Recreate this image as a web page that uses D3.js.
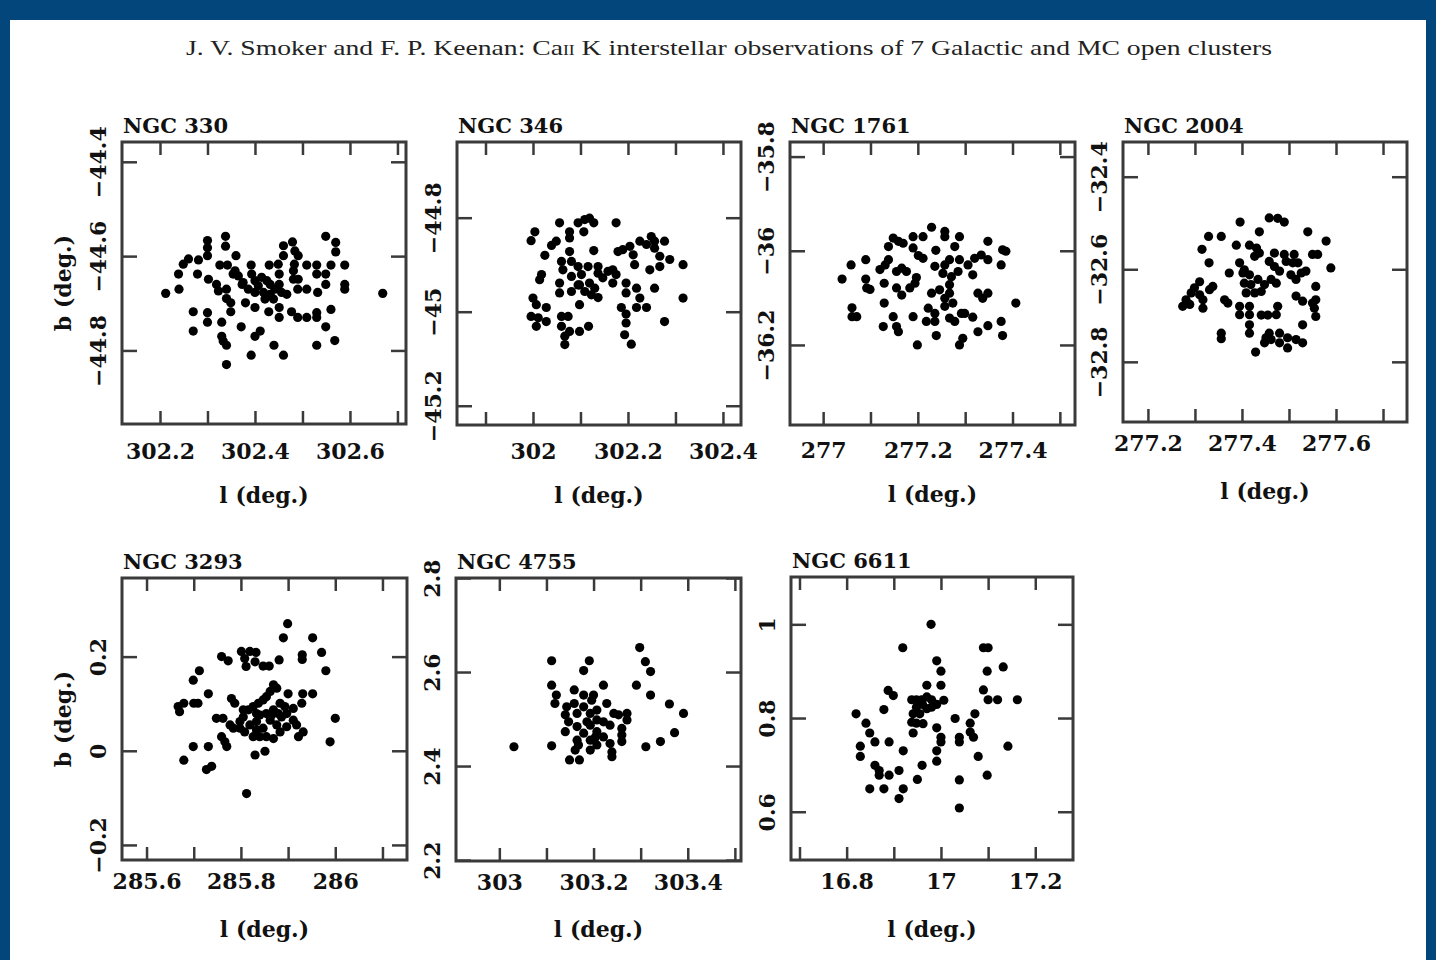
<!DOCTYPE html>
<html><head><meta charset="utf-8">
<script src="https://cdn.jsdelivr.net/npm/d3@7"></script>
<style>body{margin:0;padding:0;background:#fff;}svg{display:block;}</style>
</head><body>
<svg id="chart" width="1436" height="960"></svg>
<script>
// ---------- DATA (galactic l, b in degrees) ----------
const headerText = ["J. V. Smoker and F. P. Keenan: Ca", "II", " K interstellar observations of 7 Galactic and MC open clusters"];
const clusterNames = ["NGC 330", "NGC 346", "NGC 1761", "NGC 2004", "NGC 3293", "NGC 4755", "NGC 6611"];

const ngc330 = [[302.212,-44.679],[302.240,-44.670],[302.239,-44.638],[302.249,-44.617],[302.260,-44.606],[302.281,-44.608],[302.279,-44.638],[302.300,-44.567],[302.300,-44.582],[302.300,-44.599],[302.338,-44.558],[302.338,-44.579],[302.360,-44.599],[302.326,-44.619],[302.342,-44.619],[302.358,-44.631],[302.365,-44.642],[302.302,-44.649],[302.319,-44.660],[302.323,-44.674],[302.340,-44.670],[302.340,-44.690],[302.349,-44.699],[302.373,-44.660],[302.380,-44.699],[302.392,-44.619],[302.393,-44.638],[302.400,-44.652],[302.407,-44.663],[302.414,-44.645],[302.425,-44.652],[302.432,-44.660],[302.400,-44.677],[302.418,-44.677],[302.432,-44.681],[302.442,-44.670],[302.400,-44.709],[302.430,-44.619],[302.449,-44.617],[302.451,-44.638],[302.451,-44.660],[302.456,-44.677],[302.467,-44.681],[302.460,-44.599],[302.460,-44.578],[302.479,-44.570],[302.484,-44.589],[302.491,-44.599],[302.483,-44.617],[302.481,-44.631],[302.481,-44.649],[302.491,-44.649],[302.490,-44.670],[302.509,-44.670],[302.509,-44.619],[302.530,-44.619],[302.530,-44.638],[302.532,-44.677],[302.549,-44.638],[302.549,-44.660],[302.560,-44.619],[302.549,-44.558],[302.570,-44.571],[302.570,-44.591],[302.589,-44.619],[302.589,-44.660],[302.589,-44.670],[302.669,-44.679],[302.270,-44.718],[302.270,-44.759],[302.300,-44.720],[302.300,-44.740],[302.330,-44.740],[302.349,-44.718],[302.330,-44.770],[302.333,-44.780],[302.340,-44.789],[302.340,-44.830],[302.371,-44.750],[302.392,-44.810],[302.400,-44.770],[302.411,-44.759],[302.429,-44.718],[302.451,-44.709],[302.451,-44.730],[302.477,-44.718],[302.490,-44.730],[302.509,-44.730],[302.530,-44.720],[302.530,-44.730],[302.560,-44.713],[302.549,-44.750],[302.568,-44.779],[302.530,-44.789],[302.440,-44.789],[302.460,-44.810],[302.354,-44.638],[302.375,-44.656],[302.386,-44.670],[302.421,-44.691],[302.439,-44.691]];

const ngc346 = [[302.004,-44.830],[301.996,-44.849],[302.025,-44.880],[302.039,-44.859],[302.049,-44.850],[302.056,-44.811],[302.077,-44.830],[302.077,-44.843],[302.095,-44.811],[302.109,-44.804],[302.119,-44.801],[302.128,-44.811],[302.107,-44.830],[302.175,-44.811],[302.077,-44.872],[302.060,-44.893],[302.063,-44.911],[302.081,-44.893],[302.095,-44.904],[302.116,-44.904],[302.128,-44.870],[302.137,-44.904],[302.137,-44.918],[302.081,-44.925],[302.102,-44.921],[302.095,-44.943],[302.119,-44.939],[302.130,-44.950],[302.147,-44.928],[302.168,-44.911],[302.175,-44.921],[302.168,-44.939],[302.179,-44.872],[302.189,-44.868],[302.204,-44.861],[302.211,-44.879],[302.225,-44.850],[302.239,-44.857],[302.249,-44.840],[302.256,-44.850],[302.256,-44.865],[302.277,-44.850],[302.267,-44.882],[302.288,-44.889],[302.316,-44.900],[302.214,-44.900],[302.246,-44.911],[302.267,-44.904],[302.018,-44.921],[302.014,-44.932],[302.056,-44.939],[302.056,-44.960],[302.081,-44.957],[302.098,-44.985],[302.137,-44.970],[302.196,-44.939],[302.196,-44.960],[302.218,-44.950],[302.256,-44.950],[302.225,-44.971],[302.218,-44.991],[302.239,-44.991],[302.186,-44.991],[302.196,-45.005],[302.196,-45.024],[302.193,-45.049],[302.207,-45.069],[302.316,-44.971],[302.277,-45.021],[302.000,-44.971],[302.007,-44.985],[302.028,-44.991],[301.996,-45.010],[302.011,-45.013],[302.007,-45.031],[302.028,-45.021],[302.060,-45.010],[302.074,-45.010],[302.060,-45.031],[302.077,-45.042],[302.098,-45.042],[302.117,-45.031],[302.067,-45.052],[302.067,-45.070],[302.098,-44.943],[302.109,-44.957],[302.123,-44.964],[302.158,-44.914]];

const ngc1761 = [[277.040,-36.060],[277.059,-36.030],[277.090,-36.019],[277.090,-36.060],[277.092,-36.079],[277.099,-36.082],[277.120,-36.040],[277.131,-36.030],[277.138,-36.019],[277.129,-36.069],[277.129,-36.111],[277.061,-36.121],[277.061,-36.140],[277.071,-36.140],[277.138,-35.991],[277.148,-35.973],[277.159,-35.980],[277.169,-35.984],[277.190,-35.970],[277.211,-35.970],[277.229,-35.950],[277.257,-35.959],[277.257,-35.970],[277.288,-35.970],[277.278,-35.991],[277.348,-35.980],[277.190,-35.994],[277.201,-36.010],[277.211,-36.016],[277.238,-35.999],[277.236,-36.033],[277.257,-36.030],[277.267,-36.019],[277.288,-36.019],[277.253,-36.048],[277.271,-36.055],[277.285,-36.044],[277.267,-36.072],[277.267,-36.090],[277.257,-36.101],[277.274,-36.111],[277.246,-36.083],[277.229,-36.090],[277.155,-36.044],[277.166,-36.037],[277.176,-36.044],[277.155,-36.079],[277.166,-36.094],[277.183,-36.079],[277.194,-36.069],[277.197,-36.057],[277.306,-36.030],[277.320,-36.016],[277.334,-36.009],[277.348,-36.019],[277.379,-35.998],[277.386,-36.001],[277.376,-36.030],[277.316,-36.051],[277.327,-36.090],[277.337,-36.101],[277.348,-36.090],[277.407,-36.111],[277.148,-36.140],[277.127,-36.161],[277.155,-36.161],[277.159,-36.172],[277.190,-36.140],[277.218,-36.150],[277.236,-36.133],[277.236,-36.150],[277.257,-36.118],[277.267,-36.143],[277.278,-36.150],[277.292,-36.133],[277.299,-36.133],[277.316,-36.141],[277.348,-36.159],[277.327,-36.172],[277.376,-36.150],[277.379,-36.180],[277.295,-36.186],[277.288,-36.200],[277.239,-36.180],[277.199,-36.200],[277.222,-36.122]];

const ngc2004 = [[277.396,-32.498],[277.458,-32.489],[277.476,-32.490],[277.490,-32.498],[277.437,-32.519],[277.540,-32.519],[277.579,-32.539],[277.329,-32.529],[277.356,-32.529],[277.315,-32.557],[277.330,-32.586],[277.388,-32.548],[277.416,-32.548],[277.431,-32.554],[277.437,-32.565],[277.427,-32.572],[277.469,-32.565],[277.490,-32.568],[277.511,-32.568],[277.550,-32.568],[277.561,-32.568],[277.589,-32.597],[277.373,-32.608],[277.395,-32.586],[277.405,-32.601],[277.416,-32.612],[277.458,-32.583],[277.469,-32.594],[277.480,-32.604],[277.494,-32.583],[277.508,-32.586],[277.519,-32.586],[277.504,-32.612],[277.526,-32.608],[277.515,-32.622],[277.536,-32.604],[277.557,-32.637],[277.405,-32.630],[277.419,-32.633],[277.434,-32.622],[277.448,-32.633],[277.441,-32.648],[277.462,-32.622],[277.473,-32.630],[277.409,-32.651],[277.427,-32.651],[277.310,-32.627],[277.299,-32.640],[277.292,-32.651],[277.281,-32.666],[277.274,-32.680],[277.289,-32.676],[277.310,-32.655],[277.317,-32.666],[277.331,-32.644],[277.338,-32.637],[277.317,-32.684],[277.363,-32.666],[277.370,-32.673],[277.395,-32.680],[277.395,-32.698],[277.416,-32.680],[277.416,-32.698],[277.441,-32.699],[277.455,-32.699],[277.473,-32.698],[277.476,-32.680],[277.515,-32.658],[277.529,-32.669],[277.550,-32.673],[277.557,-32.666],[277.554,-32.684],[277.557,-32.702],[277.529,-32.720],[277.416,-32.720],[277.416,-32.738],[277.356,-32.738],[277.356,-32.750],[277.458,-32.738],[277.480,-32.738],[277.451,-32.748],[277.462,-32.752],[277.497,-32.748],[277.515,-32.752],[277.529,-32.759],[277.480,-32.759],[277.448,-32.759],[277.497,-32.770],[277.429,-32.779],[277.402,-32.608]];

const ngc3293 = [[285.899,0.270],[285.890,0.240],[285.952,0.240],[285.971,0.209],[285.980,0.170],[285.930,0.204],[285.930,0.194],[285.881,0.193],[285.801,0.211],[285.819,0.211],[285.832,0.209],[285.808,0.196],[285.811,0.179],[285.830,0.189],[285.847,0.180],[285.860,0.180],[285.759,0.200],[285.773,0.191],[285.712,0.170],[285.699,0.150],[285.731,0.121],[285.667,0.094],[285.670,0.083],[285.679,0.101],[285.700,0.101],[285.709,0.101],[285.699,0.009],[285.731,0.009],[285.679,-0.020],[285.727,-0.040],[285.738,-0.033],[285.780,0.111],[285.787,0.101],[285.759,0.030],[285.766,0.019],[285.770,0.009],[285.748,0.069],[285.762,0.069],[285.777,0.055],[285.784,0.048],[285.798,0.062],[285.805,0.072],[285.816,0.087],[285.826,0.094],[285.837,0.101],[285.847,0.108],[285.854,0.115],[285.869,0.140],[285.876,0.133],[285.862,0.126],[285.900,0.121],[285.931,0.121],[285.952,0.121],[285.929,0.101],[285.911,0.090],[285.897,0.079],[285.911,0.065],[285.918,0.055],[285.932,0.040],[285.922,0.030],[285.819,0.055],[285.833,0.062],[285.840,0.076],[285.854,0.079],[285.869,0.087],[285.883,0.101],[285.893,0.094],[285.862,0.065],[285.876,0.055],[285.886,0.072],[285.826,0.030],[285.840,0.030],[285.854,0.030],[285.869,0.026],[285.883,0.040],[285.897,0.051],[285.808,0.040],[285.798,0.048],[285.833,0.044],[285.847,0.048],[285.830,-0.009],[285.851,-0.001],[285.812,-0.091],[286.000,0.069],[285.989,0.019],[285.833,0.079],[285.865,0.076],[285.879,0.079],[285.805,0.087]];

const ngc4755 = [[303.031,2.441],[303.111,2.624],[303.111,2.572],[303.121,2.551],[303.118,2.533],[303.111,2.443],[303.179,2.603],[303.191,2.624],[303.159,2.562],[303.179,2.551],[303.200,2.551],[303.221,2.572],[303.159,2.533],[303.140,2.509],[303.140,2.473],[303.147,2.494],[303.165,2.512],[303.179,2.526],[303.193,2.512],[303.207,2.519],[303.228,2.533],[303.243,2.512],[303.165,2.484],[303.179,2.470],[303.193,2.487],[303.207,2.498],[303.221,2.494],[303.235,2.487],[303.253,2.509],[303.271,2.512],[303.271,2.498],[303.260,2.480],[303.260,2.466],[303.260,2.452],[303.207,2.473],[303.221,2.462],[303.235,2.448],[303.193,2.455],[303.165,2.455],[303.161,2.434],[303.149,2.413],[303.170,2.413],[303.193,2.434],[303.207,2.445],[303.239,2.430],[303.239,2.420],[303.168,2.445],[303.186,2.494],[303.196,2.540],[303.291,2.572],[303.298,2.652],[303.310,2.622],[303.321,2.601],[303.321,2.551],[303.361,2.532],[303.391,2.512],[303.372,2.471],[303.342,2.452],[303.311,2.441],[303.143,2.526],[303.204,2.462]];

const ngc6611 = [[16.979,1.000],[16.919,0.950],[16.991,0.922],[17.000,0.900],[17.000,0.870],[16.970,0.870],[16.888,0.859],[16.899,0.848],[16.879,0.818],[16.938,0.839],[16.948,0.839],[16.959,0.839],[16.970,0.845],[16.980,0.839],[16.991,0.829],[16.961,0.829],[16.948,0.823],[16.941,0.809],[16.955,0.809],[16.970,0.820],[16.980,0.823],[16.938,0.791],[16.948,0.789],[16.962,0.788],[16.941,0.768],[16.991,0.779],[17.000,0.759],[17.000,0.749],[16.991,0.730],[16.991,0.708],[16.960,0.699],[16.950,0.669],[16.820,0.809],[16.841,0.789],[16.849,0.768],[16.860,0.749],[16.829,0.740],[16.829,0.718],[16.890,0.749],[16.920,0.730],[16.860,0.699],[16.869,0.688],[16.869,0.678],[16.890,0.678],[16.911,0.688],[16.849,0.649],[16.879,0.649],[16.920,0.649],[16.911,0.628],[17.030,0.799],[17.039,0.759],[17.039,0.749],[17.039,0.668],[17.039,0.608],[17.062,0.789],[17.072,0.809],[17.062,0.770],[17.069,0.759],[17.079,0.718],[17.098,0.678],[17.090,0.860],[17.100,0.839],[17.120,0.839],[17.162,0.839],[17.098,0.900],[17.090,0.950],[17.100,0.950],[17.132,0.909],[17.142,0.740],[17.006,0.838]];

// axis domains (deg.)
const xDomains = [[302.12,302.718],[301.84,302.438],[276.93,277.532],[277.147,277.751],[285.548,286.152],[302.908,303.513],[16.682,17.28]];
const yDomains = [[-44.956,-44.358],[-45.241,-44.639],[-36.37,-35.769],[-32.93,-32.325],[-0.232,0.367],[2.198,2.8],[0.497,1.101]];

// tick values and labelled ticks
const xTickValues = [
  [302.2,302.3,302.4,302.5,302.6,302.7],
  [301.9,302,302.1,302.2,302.3,302.4],
  [277,277.1,277.2,277.3,277.4,277.5],
  [277.2,277.3,277.4,277.5,277.6,277.7],
  [285.6,285.7,285.8,285.9,286,286.1],
  [303,303.1,303.2,303.3,303.4,303.5],
  [16.7,16.8,16.9,17,17.1,17.2]];
const xTickLabels = [
  [302.2,302.4,302.6],[302,302.2,302.4],[277,277.2,277.4],[277.2,277.4,277.6],
  [285.6,285.8,286],[303,303.2,303.4],[16.8,17,17.2]];
const yTickValues = [
  [-44.8,-44.6,-44.4],[-45.2,-45,-44.8],[-36.2,-36,-35.8],[-32.8,-32.6,-32.4],
  [-0.2,0,0.2],[2.2,2.4,2.6,2.8],[0.6,0.8,1]];

const allData = [ngc330, ngc346, ngc1761, ngc2004, ngc3293, ngc4755, ngc6611];

// ---------- LAYOUT ----------
const boxes = [
  {x:122,y:142,w:284,h:282, gap:19, xl:503, yl:true},
  {x:457,y:142,w:284,h:283, gap:18, xl:503, yl:false},
  {x:790,y:142,w:285,h:283, gap:17, xl:502, yl:false},
  {x:1123,y:142,w:284,h:280, gap:13, xl:499, yl:false},
  {x:122,y:578,w:285,h:282, gap:13, xl:937, yl:true},
  {x:456,y:578,w:285,h:283, gap:13, xl:937, yl:false},
  {x:791,y:577,w:282,h:283, gap:13, xl:937, yl:false}];

const svg = d3.select("#chart");
const BLUE = "#03467c";
svg.append("rect").attr("x",0).attr("y",0).attr("width",1436).attr("height",960).attr("fill",BLUE);
svg.append("rect").attr("x",10).attr("y",20).attr("width",1416).attr("height",940).attr("fill","#fff");

// header
const ht = svg.append("text").attr("x",729).attr("y",55).attr("text-anchor","middle")
  .attr("font-family","'Liberation Serif', serif").attr("font-size",22).attr("fill","#222")
  .attr("textLength",1086).attr("lengthAdjust","spacingAndGlyphs");
ht.append("tspan").text(headerText[0]);
ht.append("tspan").attr("font-size",14).text(headerText[1]);
ht.append("tspan").text(headerText[2]);

const FONT = "'DejaVu Serif', serif";
const fmt = d3.format("~g");
const FRAME = "#3a3a3a";

allData.forEach((pts, i) => {
  const b = boxes[i];
  const x = d3.scaleLinear().domain(xDomains[i]).range([b.x, b.x + b.w]);
  const y = d3.scaleLinear().domain(yDomains[i]).range([b.y + b.h, b.y]);
  const g = svg.append("g");
  const labelSet = new Set(xTickLabels[i].map(v => v.toFixed(3)));

  const ax = g.append("g").attr("transform", `translate(0,${b.y + b.h})`)
    .call(d3.axisBottom(x).tickValues(xTickValues[i]).tickSizeInner(-13).tickSizeOuter(0)
      .tickPadding(b.gap).tickFormat(d => labelSet.has(d.toFixed(3)) ? fmt(d) : ""));
  const axT = g.append("g").attr("transform", `translate(0,${b.y})`)
    .call(d3.axisTop(x).tickValues(xTickValues[i]).tickSizeInner(-13).tickSizeOuter(0).tickFormat(""));
  const ayL = g.append("g").attr("transform", `translate(${b.x},0)`)
    .call(d3.axisLeft(y).tickValues(yTickValues[i]).tickSizeInner(-15).tickSizeOuter(0).tickFormat(d => fmt(d)));
  const ayR = g.append("g").attr("transform", `translate(${b.x + b.w},0)`)
    .call(d3.axisRight(y).tickValues(yTickValues[i]).tickSizeInner(-15).tickSizeOuter(0).tickFormat(""));

  [ax, axT, ayL, ayR].forEach(a => {
    a.select(".domain").remove();
    a.selectAll(".tick line").attr("stroke", FRAME).attr("stroke-width", 2.5);
  });
  ax.selectAll(".tick text").attr("font-family", FONT).attr("font-weight","bold")
    .attr("font-size", 22).attr("fill","#111");
  ayL.selectAll(".tick text").attr("font-family", FONT).attr("font-weight","bold")
    .attr("font-size", 22).attr("fill","#111")
    .attr("text-anchor","middle").attr("dy", null).attr("x", 0).attr("y", -16)
    .attr("transform","rotate(-90)");

  g.append("rect").attr("x", b.x).attr("y", b.y).attr("width", b.w).attr("height", b.h)
    .attr("fill","none").attr("stroke", FRAME).attr("stroke-width", 3);

  g.append("g").selectAll("circle").data(pts).join("circle")
    .attr("cx", d => x(d[0])).attr("cy", d => y(d[1])).attr("r", 4.6).attr("fill","#000");

  g.append("text").attr("x", b.x + 1).attr("y", b.y - 9).attr("font-family", FONT)
    .attr("font-weight","bold").attr("font-size", 21).attr("fill","#111")
    .text(clusterNames[i]);

  g.append("text").attr("x", b.x + b.w / 2).attr("y", b.xl).attr("text-anchor","middle")
    .attr("font-family", FONT).attr("font-weight","bold").attr("font-size", 22).attr("fill","#111")
    .text("l (deg.)");

  if (b.yl) {
    g.append("text").attr("transform", `translate(${b.x - 51},${b.y + b.h / 2}) rotate(-90)`)
      .attr("text-anchor","middle").attr("font-family", FONT).attr("font-weight","bold")
      .attr("font-size", 22).attr("fill","#111").text("b (deg.)");
  }
});
</script>
</body></html>
